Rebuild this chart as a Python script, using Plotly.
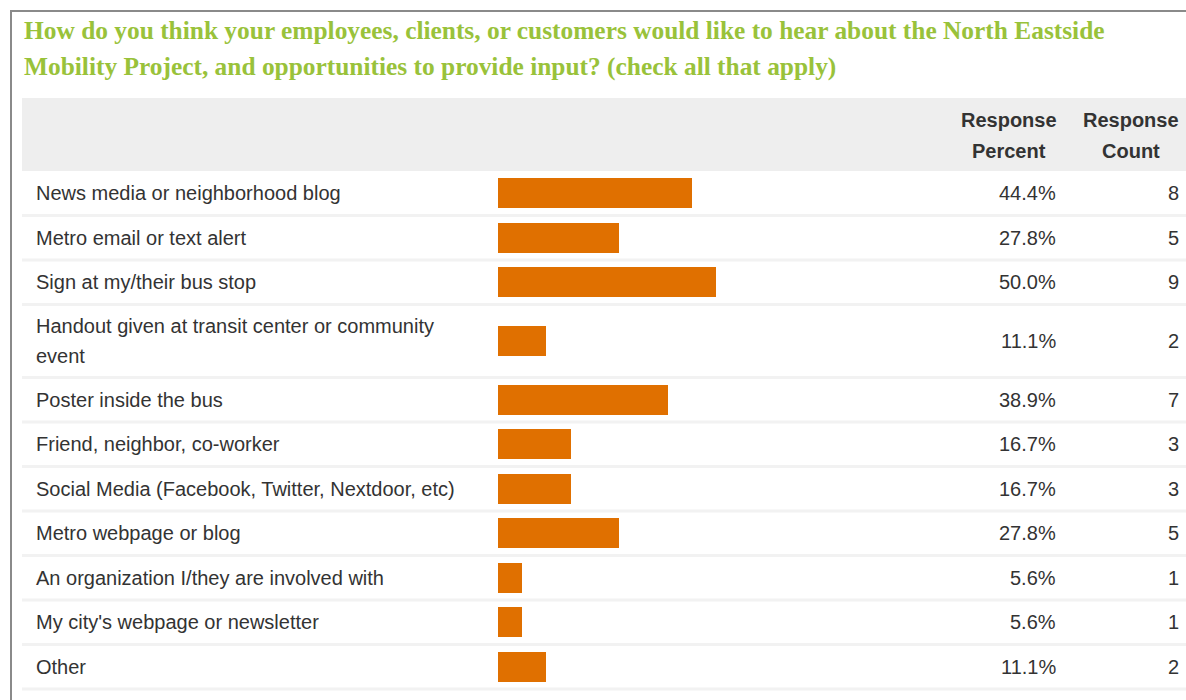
import plotly.graph_objects as go

title_lines = [
    "How do you think your employees, clients, or customers would like to hear about the North Eastside",
    "Mobility Project, and opportunities to provide input? (check all that apply)",
]
categories = [
    ["News media or neighborhood blog"],
    ["Metro email or text alert"],
    ["Sign at my/their bus stop"],
    ["Handout given at transit center or community", "event"],
    ["Poster inside the bus"],
    ["Friend, neighbor, co-worker"],
    ["Social Media (Facebook, Twitter, Nextdoor, etc)"],
    ["Metro webpage or blog"],
    ["An organization I/they are involved with"],
    ["My city's webpage or newsletter"],
    ["Other"],
]
percents = [44.4, 27.8, 50.0, 11.1, 38.9, 16.7, 16.7, 27.8, 5.6, 5.6, 11.1]
counts = [8, 5, 9, 2, 7, 3, 3, 5, 1, 1, 2]
header_percent = ["Response", "Percent"]
header_count = ["Response", "Count"]

W, H = 1186, 700
BAR_COLOR = "#e07000"
TEXT_COLOR = "#333333"
TITLE_COLOR = "#99c23a"
FONT = "Liberation Sans, Arial, sans-serif"
FS = 20

# layout computation (pixel units on y axis)
header_top, header_bottom = 98, 171
single_h, double_h = 44.5, 73
centers, bounds = [], []
y = header_bottom
for lines in categories:
    h = double_h if len(lines) > 1 else single_h
    centers.append(y + h / 2)
    y += h
    bounds.append(y)

fig = go.Figure()
fig.add_trace(go.Bar(
    x=percents, y=centers, orientation="h", width=30,
    marker=dict(color=BAR_COLOR, line=dict(width=0)),
    hoverinfo="skip", showlegend=False,
))

shapes = []
# outer frame
shapes.append(dict(type="line", xref="paper", yref="y", x0=11 / W, x1=1, y0=11, y1=11,
                   line=dict(color="#8a8a8a", width=2)))
shapes.append(dict(type="line", xref="paper", yref="y", x0=11 / W, x1=11 / W, y0=10, y1=H,
                   line=dict(color="#8a8a8a", width=2)))
# header background
shapes.append(dict(type="rect", xref="paper", yref="y", x0=22 / W, x1=1, y0=header_top, y1=header_bottom,
                   fillcolor="#eeeeee", line=dict(width=0), layer="below"))
# row separators
for b in bounds:
    shapes.append(dict(type="line", xref="paper", yref="y", x0=22 / W, x1=1, y0=b, y1=b,
                       line=dict(color="#f2f2f2", width=3), layer="below"))

ann = []
for i, t in enumerate(title_lines):
    ann.append(dict(text="<b>" + t + "</b>", xref="paper", yref="y", x=22 / W, y=30 + 36 * i,
                    xanchor="left", yanchor="middle", showarrow=False,
                    font=dict(family="Liberation Serif, Times New Roman, serif", size=25.4, color=TITLE_COLOR)))
for i, t in enumerate(header_percent):
    ann.append(dict(text="<b>" + t + "</b>", xref="paper", yref="y", x=1009 / W, y=120 + 31 * i,
                    xanchor="center", yanchor="middle", showarrow=False,
                    font=dict(family=FONT, size=FS, color=TEXT_COLOR)))
for i, t in enumerate(header_count):
    ann.append(dict(text="<b>" + t + "</b>", xref="paper", yref="y", x=1131 / W, y=120 + 31 * i,
                    xanchor="center", yanchor="middle", showarrow=False,
                    font=dict(family=FONT, size=FS, color=TEXT_COLOR)))
for lines, c, p, n in zip(categories, centers, percents, counts):
    k = len(lines)
    for j, t in enumerate(lines):
        ann.append(dict(text=t, xref="paper", yref="y", x=34 / W, y=c + (j - (k - 1) / 2) * 30,
                        xanchor="left", yanchor="middle", showarrow=False,
                        font=dict(family=FONT, size=FS, color=TEXT_COLOR)))
    ann.append(dict(text=f"{p:.1f}%", xref="paper", yref="y", x=1058 / W, y=c,
                    xanchor="right", yanchor="middle", showarrow=False,
                    font=dict(family=FONT, size=FS, color=TEXT_COLOR)))
    ann.append(dict(text=str(n), xref="paper", yref="y", x=1181 / W, y=c,
                    xanchor="right", yanchor="middle", showarrow=False,
                    font=dict(family=FONT, size=FS, color=TEXT_COLOR)))

fig.update_layout(
    width=W, height=H,
    margin=dict(l=0, r=0, t=0, b=0),
    paper_bgcolor="white", plot_bgcolor="rgba(0,0,0,0)",
    xaxis=dict(domain=[498 / W, 934 / W], range=[0, 100], visible=False, fixedrange=True),
    yaxis=dict(domain=[0, 1], range=[H, 0], visible=False, fixedrange=True),
    shapes=shapes, annotations=ann, bargap=0,
)

fig.write_html(
    "out.html",
    config={"displayModeBar": False},
    post_script="document.body.style.margin='0';document.body.style.overflow='hidden';",
)
